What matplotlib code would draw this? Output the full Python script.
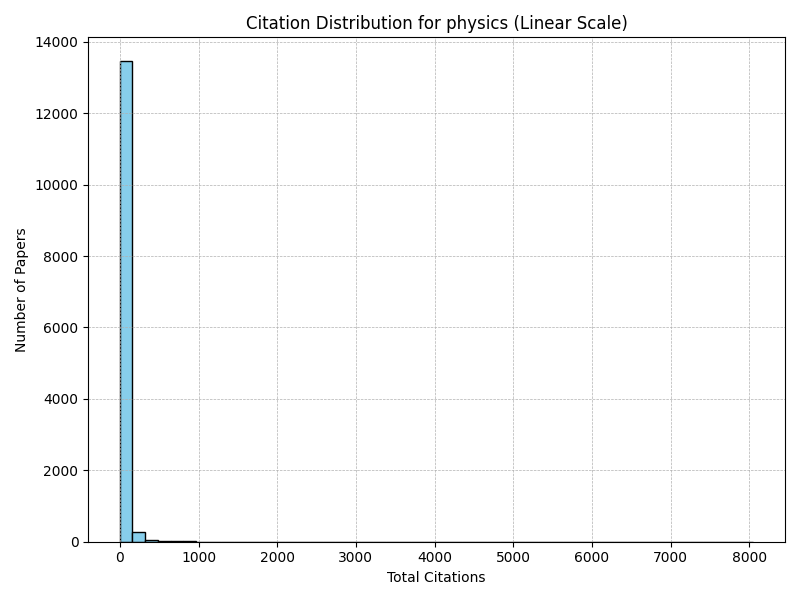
import numpy as np
import matplotlib
matplotlib.use("Agg")
import matplotlib.pyplot as plt

field = "physics"
max_citations = 8050
# estimated counts for the 50 histogram bins
bin_counts = [13450, 270, 60, 22, 14, 9, 6, 4, 3, 2,
              2, 1, 1, 1, 1, 0, 1, 0, 1, 0,
              0, 1, 0, 0, 0, 0, 1, 0, 0, 0,
              0, 0, 0, 0, 0, 0, 0, 0, 0, 0,
              0, 0, 0, 0, 0, 0, 0, 0, 0, 1]

edges = np.linspace(0, max_citations, len(bin_counts) + 1)
centers = (edges[:-1] + edges[1:]) / 2

fig, ax = plt.subplots(figsize=(8, 6), dpi=100)
ax.hist(centers, bins=edges, weights=bin_counts, color="skyblue", edgecolor="black")
ax.set_title(f"Citation Distribution for {field} (Linear Scale)")
ax.set_xlabel("Total Citations")
ax.set_ylabel("Number of Papers")
ax.grid(True, linestyle="--", linewidth=0.5)
plt.tight_layout()
plt.savefig("out.png")
